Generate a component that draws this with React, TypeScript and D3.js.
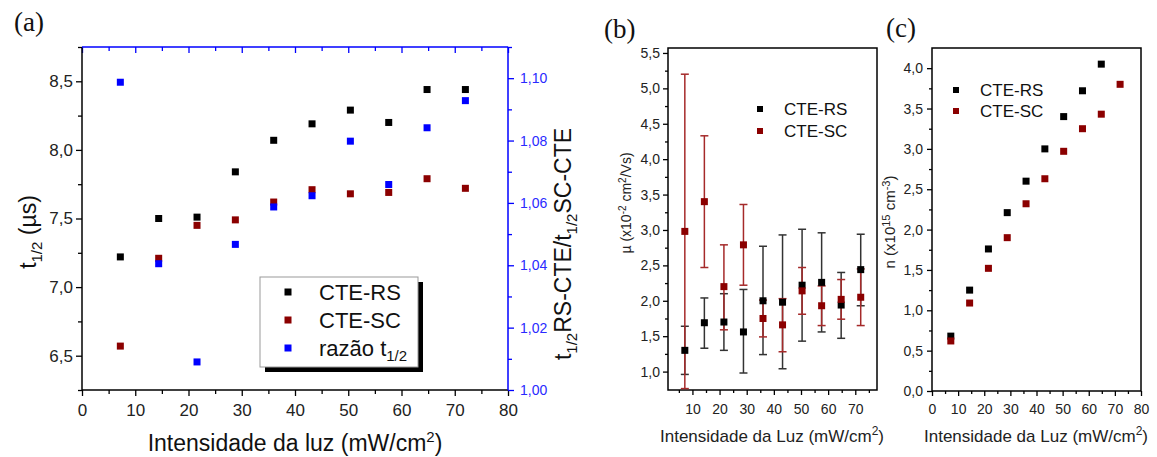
import React, { useEffect, useRef } from 'react';
import * as d3 from 'd3';

// Light intensity (mW/cm²) of each measurement
const intensity = [7.2, 14.4, 21.6, 28.8, 36, 43.2, 50.4, 57.6, 64.8, 72];

// (a) half-life t1/2 (µs) and the RS/SC ratio
const t12RS = [7.22, 7.5, 7.51, 7.84, 8.07, 8.19, 8.29, 8.2, 8.44, 8.44];
const t12SC = [6.57, 7.21, 7.45, 7.49, 7.62, 7.71, 7.68, 7.69, 7.79, 7.72];
const t12Ratio = [1.0987, 1.0405, 1.009, 1.0467, 1.0587, 1.0623, 1.0798, 1.0659, 1.0841, 1.0928];

// (b) mobility µ (x10^-2 cm²/Vs) with error bar limits
const muRS = [1.3, 1.69, 1.7, 1.56, 2.0, 1.98, 2.22, 2.26, 1.94, 2.44];
const muRSLow = [0.96, 1.33, 1.3, 0.98, 1.24, 1.04, 1.43, 1.56, 1.47, 1.93];
const muRSHigh = [1.64, 2.04, 2.1, 2.16, 2.77, 2.93, 3.01, 2.96, 2.4, 2.94];
const muSC = [2.98, 3.4, 2.2, 2.79, 1.75, 1.66, 2.14, 1.93, 2.02, 2.05];
const muSCLow = [0.76, 2.47, 1.59, 2.22, 1.49, 1.28, 1.81, 1.65, 1.74, 1.65];
const muSCHigh = [5.2, 4.33, 2.79, 3.36, 2.01, 2.03, 2.47, 2.21, 2.3, 2.45];

// (c) carrier density n (x10^15 cm^-3)
const nRS = [0.68, 1.25, 1.76, 2.21, 2.6, 3.0, 3.4, 3.72, 4.05];
const nSC = [0.62, 1.09, 1.52, 1.9, 2.32, 2.63, 2.97, 3.25, 3.43, 3.8];

// Tick values
const xTicksA = [0, 10, 20, 30, 40, 50, 60, 70, 80];
const yTicksA = [6.5, 7.0, 7.5, 8.0, 8.5];
const yTicksRatio = [1.0, 1.02, 1.04, 1.06, 1.08, 1.1];
const xTicksB = [10, 20, 30, 40, 50, 60, 70];
const yTicksB = [1.0, 1.5, 2.0, 2.5, 3.0, 3.5, 4.0, 4.5, 5.0, 5.5];
const xTicksC = [0, 10, 20, 30, 40, 50, 60, 70, 80];
const yTicksC = [0.0, 0.5, 1.0, 1.5, 2.0, 2.5, 3.0, 3.5, 4.0];

const SANS = "'Liberation Sans', Arial, sans-serif";
const SERIF = "'Liberation Serif', 'Times New Roman', serif";
const BLACK = '#000000';
const RED = '#8b0000';
const BLUE = '#0000ff';

const ptBR = d3.formatLocale({ decimal: ',', thousands: '.', grouping: [3], currency: ['R$', ''] });
const f1 = ptBR.format('.1f');
const f2 = ptBR.format('.2f');
const f0 = ptBR.format('d');

type Sel = d3.Selection<SVGGElement, unknown, null, undefined>;

function axis(
  g: Sel,
  scale: d3.ScaleLinear<number, number>,
  side: 'left' | 'right' | 'bottom' | 'top',
  pos: number,
  opt: {
    major: number[];
    minor: number[];
    format?: (v: number) => string;
    color: string;
    major_len: number;
    minor_len: number;
    pad: number;
    fontSize: number;
    textColor?: string;
  }
) {
  const make =
    side === 'left' ? d3.axisLeft : side === 'right' ? d3.axisRight : side === 'bottom' ? d3.axisBottom : d3.axisTop;
  const isY = side === 'left' || side === 'right';
  const tr = isY ? `translate(${pos},0)` : `translate(0,${pos})`;
  const minorG = g.append('g').attr('transform', tr);
  minorG.call(make(scale).tickValues(opt.minor).tickSize(opt.minor_len).tickFormat(() => ''));
  const majorG = g.append('g').attr('transform', tr);
  majorG.call(
    make(scale)
      .tickValues(opt.major)
      .tickSize(opt.major_len)
      .tickPadding(opt.pad)
      .tickFormat(opt.format ? (d: any) => opt.format!(d) : () => '')
  );
  [minorG, majorG].forEach((s) => {
    s.select('.domain').remove();
    s.selectAll('line').attr('stroke', opt.color).attr('stroke-width', 1.3);
    s.attr('font-family', SANS).attr('font-size', opt.fontSize);
    s.selectAll('text').attr('fill', opt.textColor || '#222');
  });
}

function squares(g: Sel, xs: number[], ys: number[], x: any, y: any, color: string, size = 7) {
  g.append('g')
    .selectAll('rect')
    .data(ys)
    .join('rect')
    .attr('x', (_d, i) => x(xs[i]) - size / 2)
    .attr('y', (d) => y(d) - size / 2)
    .attr('width', size)
    .attr('height', size)
    .attr('fill', color);
}

function App() {
  const ref = useRef<SVGSVGElement>(null);

  useEffect(() => {
    const svg = d3.select(ref.current!);
    svg.selectAll('*').remove();
    const root = svg.append('g') as unknown as Sel;

    // ---------------- Panel (a) ----------------
    const ax = d3.scaleLinear([0, 80], [82, 508]);
    const ay = d3.scaleLinear([6.25, 8.75], [390, 47]);
    const ar = d3.scaleLinear([1.0, 1.11], [390, 47]);
    const pa = root.append('g') as unknown as Sel;

    axis(pa, ax, 'bottom', 390, {
      major: xTicksA, minor: d3.range(5, 80, 10), format: f0, color: BLACK,
      major_len: 6, minor_len: 4, pad: 8, fontSize: 17,
    });
    axis(pa, ax, 'top', 47, {
      major: xTicksA, minor: d3.range(5, 80, 10), color: BLUE,
      major_len: -6, minor_len: -4, pad: 3, fontSize: 17,
    });
    axis(pa, ay, 'left', 82, {
      major: yTicksA, minor: [6.25, 6.75, 7.25, 7.75, 8.25, 8.75], format: f1, color: BLACK,
      major_len: 6, minor_len: 4, pad: 3, fontSize: 17,
    });
    axis(pa, ar, 'right', 508, {
      major: yTicksRatio, minor: [1.01, 1.03, 1.05, 1.07, 1.09, 1.11], format: f2, color: BLUE,
      major_len: 6, minor_len: 4, pad: 6, fontSize: 14, textColor: '#2a2aff',
    });
    pa.append('line').attr('x1', 82).attr('x2', 82).attr('y1', 47).attr('y2', 390).attr('stroke', BLACK).attr('stroke-width', 1.5);
    pa.append('line').attr('x1', 82).attr('x2', 508).attr('y1', 390).attr('y2', 390).attr('stroke', BLACK).attr('stroke-width', 1.5);
    pa.append('line').attr('x1', 82).attr('x2', 508).attr('y1', 47).attr('y2', 47).attr('stroke', BLUE).attr('stroke-width', 1.5);
    pa.append('line').attr('x1', 508).attr('x2', 508).attr('y1', 47).attr('y2', 390).attr('stroke', BLUE).attr('stroke-width', 1.5);

    squares(pa, intensity, t12RS, ax, ay, BLACK);
    squares(pa, intensity, t12SC, ax, ay, RED);
    squares(pa, intensity, t12Ratio, ax, ar, BLUE);

    // legend with drop shadow
    const lg = pa.append('g');
    lg.append('rect').attr('x', 265).attr('y', 282).attr('width', 158).attr('height', 90).attr('fill', BLACK);
    lg.append('rect').attr('x', 260).attr('y', 277).attr('width', 158).attr('height', 90).attr('fill', '#fff').attr('stroke', '#999').attr('stroke-width', 1);
    const legA = [
      { label: 'CTE-RS', color: BLACK, sub: '' },
      { label: 'CTE-SC', color: RED, sub: '' },
      { label: 'razão t', color: BLUE, sub: '1/2' },
    ];
    legA.forEach((d, i) => {
      const cy = 292 + i * 28;
      lg.append('rect').attr('x', 288 - 3.5).attr('y', cy - 3.5).attr('width', 7).attr('height', 7).attr('fill', d.color);
      const t = lg.append('text').attr('x', 319).attr('y', cy + 8).attr('font-family', SANS).attr('font-size', 22).attr('fill', '#111').text(d.label);
      if (d.sub) t.append('tspan').attr('font-size', 15).attr('dy', 5).text(d.sub);
    });

    // axis titles
    const tyA = pa.append('text').attr('transform', 'translate(36,232) rotate(-90)').attr('text-anchor', 'middle')
      .attr('font-family', SANS).attr('font-size', 23).attr('fill', '#111');
    tyA.append('tspan').text('t');
    tyA.append('tspan').attr('font-size', 15).attr('dy', 6).text('1/2');
    tyA.append('tspan').attr('dy', -6).text(' (µs)');

    const tyR = pa.append('text').attr('transform', 'translate(571,244) rotate(-90)').attr('text-anchor', 'middle')
      .attr('font-family', SANS).attr('font-size', 23).attr('fill', '#111');
    tyR.append('tspan').text('t');
    tyR.append('tspan').attr('font-size', 15).attr('dy', 6).text('1/2');
    tyR.append('tspan').attr('dy', -6).text('RS-CTE/t');
    tyR.append('tspan').attr('font-size', 15).attr('dy', 6).text('1/2');
    tyR.append('tspan').attr('dy', -6).text('SC-CTE');

    const txA = pa.append('text').attr('x', 295).attr('y', 451).attr('text-anchor', 'middle')
      .attr('font-family', SANS).attr('font-size', 23).attr('fill', '#111');
    txA.append('tspan').text('Intensidade da luz (mW/cm');
    txA.append('tspan').attr('font-size', 15).attr('dy', -9).text('2');
    txA.append('tspan').attr('dy', 9).text(')');

    pa.append('text').attr('x', 14).attr('y', 31).attr('font-family', SERIF).attr('font-size', 27).attr('fill', '#111').text('(a)');

    // ---------------- Panel (b) ----------------
    const bx = d3.scaleLinear([1, 78], [668, 877]);
    const by = d3.scaleLinear([0.74, 5.57], [390, 48]);
    const pb = root.append('g') as unknown as Sel;
    axis(pb, bx, 'bottom', 390, {
      major: xTicksB, minor: d3.range(5, 80, 10), format: f0, color: BLACK,
      major_len: 5, minor_len: 3, pad: 9, fontSize: 14,
    });
    axis(pb, by, 'left', 668, {
      major: yTicksB, minor: d3.range(1.25, 5.5, 0.5), format: f1, color: BLACK,
      major_len: 5, minor_len: 3, pad: 3, fontSize: 14,
    });
    pb.append('rect').attr('x', 668).attr('y', 48).attr('width', 877 - 668).attr('height', 390 - 48)
      .attr('fill', 'none').attr('stroke', BLACK).attr('stroke-width', 1.5);

    const errBars = (xs: number[], lo: number[], hi: number[], color: string) => {
      const eg = pb.append('g').attr('stroke', color).attr('stroke-width', 1.5).attr('fill', 'none');
      xs.forEach((xv, i) => {
        const cx = bx(xv);
        eg.append('line').attr('x1', cx).attr('x2', cx).attr('y1', by(lo[i])).attr('y2', by(hi[i]));
        eg.append('line').attr('x1', cx - 4).attr('x2', cx + 4).attr('y1', by(lo[i])).attr('y2', by(lo[i]));
        eg.append('line').attr('x1', cx - 4).attr('x2', cx + 4).attr('y1', by(hi[i])).attr('y2', by(hi[i]));
      });
    };
    errBars(intensity, muRSLow, muRSHigh, '#333');
    errBars(intensity, muSCLow, muSCHigh, '#a52a2a');
    squares(pb, intensity, muRS, bx, by, BLACK);
    squares(pb, intensity, muSC, bx, by, RED);

    [{ label: 'CTE-RS', color: BLACK }, { label: 'CTE-SC', color: RED }].forEach((d, i) => {
      const cy = 109 + i * 22;
      pb.append('rect').attr('x', 760 - 3).attr('y', cy - 3).attr('width', 6).attr('height', 6).attr('fill', d.color);
      pb.append('text').attr('x', 784).attr('y', cy + 6).attr('font-family', SANS).attr('font-size', 17).attr('fill', '#111').text(d.label);
    });

    const tyB = pb.append('text').attr('transform', 'translate(631,203) rotate(-90)').attr('text-anchor', 'middle')
      .attr('font-family', SANS).attr('font-size', 14).attr('fill', '#222');
    tyB.append('tspan').text('µ (x10');
    tyB.append('tspan').attr('font-size', 10).attr('dy', -5).text('-2');
    tyB.append('tspan').attr('dy', 5).text(' cm');
    tyB.append('tspan').attr('font-size', 10).attr('dy', -5).text('2');
    tyB.append('tspan').attr('dy', 5).text('/Vs)');

    const txB = pb.append('text').attr('x', 772).attr('y', 442).attr('text-anchor', 'middle')
      .attr('font-family', SANS).attr('font-size', 17).attr('fill', '#222');
    txB.append('tspan').text('Intensidade da Luz (mW/cm');
    txB.append('tspan').attr('font-size', 12).attr('dy', -7).text('2');
    txB.append('tspan').attr('dy', 7).text(')');

    pb.append('text').attr('x', 604).attr('y', 38).attr('font-family', SERIF).attr('font-size', 27).attr('fill', '#111').text('(b)');

    // ---------------- Panel (c) ----------------
    const cxs = d3.scaleLinear([0, 80], [932, 1141]);
    const cys = d3.scaleLinear([0, 4.25], [391, 48]);
    const pc = root.append('g') as unknown as Sel;
    axis(pc, cxs, 'bottom', 391, {
      major: xTicksC, minor: d3.range(5, 80, 10), format: f0, color: BLACK,
      major_len: 5, minor_len: 3, pad: 8, fontSize: 14,
    });
    axis(pc, cys, 'left', 932, {
      major: yTicksC, minor: d3.range(0.25, 4.25, 0.5), format: f1, color: BLACK,
      major_len: 5, minor_len: 3, pad: 4, fontSize: 14,
    });
    pc.append('rect').attr('x', 932).attr('y', 48).attr('width', 1141 - 932).attr('height', 391 - 48)
      .attr('fill', 'none').attr('stroke', BLACK).attr('stroke-width', 1.5);

    squares(pc, intensity.slice(0, nRS.length), nRS, cxs, cys, BLACK);
    squares(pc, intensity, nSC, cxs, cys, RED);

    [{ label: 'CTE-RS', color: BLACK }, { label: 'CTE-SC', color: RED }].forEach((d, i) => {
      const cy = 90 + i * 21;
      pc.append('rect').attr('x', 956 - 3).attr('y', cy - 3).attr('width', 6).attr('height', 6).attr('fill', d.color);
      pc.append('text').attr('x', 980).attr('y', cy + 6).attr('font-family', SANS).attr('font-size', 17).attr('fill', '#111').text(d.label);
    });

    const tyC = pc.append('text').attr('transform', 'translate(895,222) rotate(-90)').attr('text-anchor', 'middle')
      .attr('font-family', SANS).attr('font-size', 15).attr('fill', '#222');
    tyC.append('tspan').text('n (x10');
    tyC.append('tspan').attr('font-size', 11).attr('dy', -5).text('15');
    tyC.append('tspan').attr('dy', 5).text(' cm');
    tyC.append('tspan').attr('font-size', 11).attr('dy', -5).text('-3');
    tyC.append('tspan').attr('dy', 5).text(')');

    const txC = pc.append('text').attr('x', 1036).attr('y', 442).attr('text-anchor', 'middle')
      .attr('font-family', SANS).attr('font-size', 17).attr('fill', '#222');
    txC.append('tspan').text('Intensidade da Luz (mW/cm');
    txC.append('tspan').attr('font-size', 12).attr('dy', -7).text('2');
    txC.append('tspan').attr('dy', 7).text(')');

    pc.append('text').attr('x', 886).attr('y', 37).attr('font-family', SERIF).attr('font-size', 27).attr('fill', '#111').text('(c)');
  }, []);

  return (
    <svg
      ref={ref}
      width={1157}
      height={457}
      style={{ position: 'absolute', left: 0, top: 0, background: '#fff' }}
    />
  );
}

export default App;
